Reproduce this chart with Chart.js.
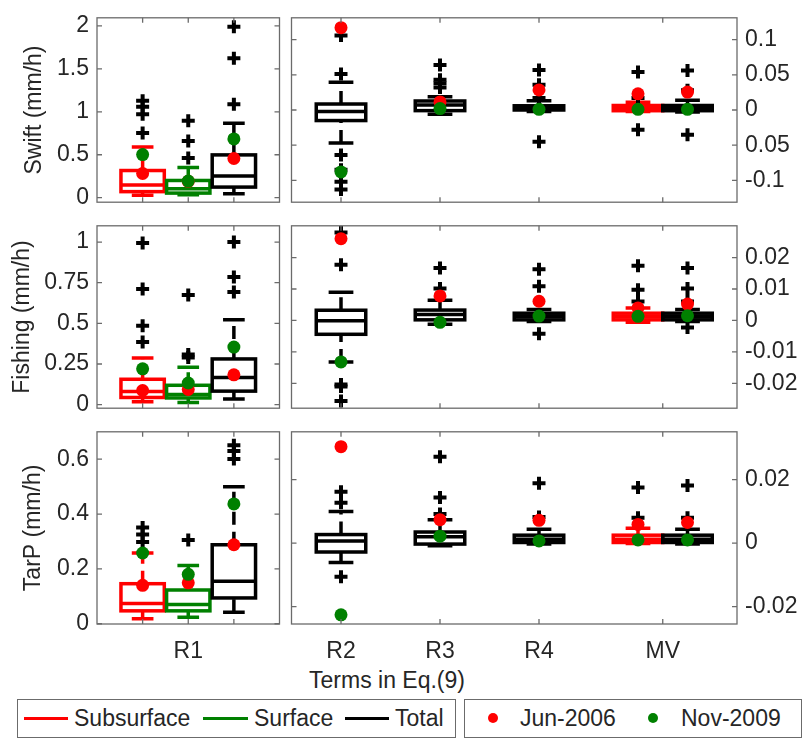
<!DOCTYPE html>
<html>
<head>
<meta charset="utf-8">
<script src="https://cdn.jsdelivr.net/npm/chart.js@4.4.1/dist/chart.umd.min.js"></script>
<style>
  body { margin: 0; width: 803px; height: 739px; position: relative; overflow: hidden; background: #fff;
         font-family: "Liberation Sans", Arial, Helvetica, sans-serif; color: #262626; }
  canvas { position: absolute; }
  .txt { position: absolute; white-space: nowrap; font-size: 23px; line-height: 23px; }
  .lgbox { position: absolute; border: 1px solid #6b6b6b; box-sizing: border-box; background: #fff; }
  .lgline { position: absolute; height: 3px; }
  .lgdot { position: absolute; width: 10px; height: 10px; border-radius: 50%; }
</style>
</head>
<body>
<div class="txt" style="left:387px; top:669px; transform:translateX(-50%)">Terms in Eq.(9)</div>

<div class="lgbox" style="left:17px; top:699px; width:439px; height:39px"></div>
<div class="lgline" style="left:24px; top:717px; width:44px; background:#ff0000"></div>
<div class="txt" style="left:74px; top:707px">Subsurface</div>
<div class="lgline" style="left:203px; top:717px; width:45px; background:#008000"></div>
<div class="txt" style="left:254px; top:707px">Surface</div>
<div class="lgline" style="left:345px; top:717px; width:44px; background:#000"></div>
<div class="txt" style="left:395px; top:707px">Total</div>

<div class="lgbox" style="left:464px; top:699px; width:338px; height:39px"></div>
<div class="lgdot" style="left:488px; top:713px; background:#ff0000"></div>
<div class="txt" style="left:520px; top:707px">Jun-2006</div>
<div class="lgdot" style="left:648px; top:713px; background:#008000"></div>
<div class="txt" style="left:681px; top:707px">Nov-2009</div>

<script>
// box positions and colours
const leftGroups = ['Subsurface', 'Surface', 'Total'];
const leftPos = [1, 2, 3];
const leftColors = ['#ff0000', '#008000', '#000000'];
const rightTerms = ['R2', 'R3', 'R4', 'MV', 'MV'];
const rightPos = [2, 3, 4, 5, 5.5];
const rightColors = ['#000000', '#000000', '#000000', '#ff0000', '#000000'];

// x ticks
const leftXTicks = [1, 2, 3];
const leftXLabels = ['', 'R1', ''];
const rightXTicks = [2, 3, 4, 5.25];
const rightXLabels = ['R2', 'R3', 'R4', 'MV'];

// y ticks
const swiftTicksL = [0, 0.5, 1, 1.5, 2];
const swiftLabelsL = ['0', '0.5', '1', '1.5', '2'];
const swiftTicksR = [-0.1, -0.05, 0, 0.05, 0.1];
const swiftLabelsR = ['-0.1', '0.05', '0', '0.05', '0.1'];
const fishTicksL = [0, 0.25, 0.5, 0.75, 1];
const fishLabelsL = ['0', '0.25', '0.5', '0.75', '1'];
const fishTicksR = [-0.02, -0.01, 0, 0.01, 0.02];
const fishLabelsR = ['-0.02', '-0.01', '0', '0.01', '0.02'];
const tarpTicksL = [0, 0.2, 0.4, 0.6];
const tarpLabelsL = ['0', '0.2', '0.4', '0.6'];
const tarpTicksR = [-0.02, 0, 0.02];
const tarpLabelsR = ['-0.02', '0', '0.02'];

// box stats per box: [lower whisker, q1, median, q3, upper whisker]
const swiftStatsL = [[0.028, 0.07, 0.147, 0.316, 0.589], [0.035, 0.053, 0.105, 0.2, 0.351], [0.046, 0.123, 0.253, 0.498, 0.867]];
const swiftOutL = [[1.13, 1.06, 0.972, 0.754], [0.895, 0.66, 0.463], [1.99, 1.625, 1.088]];
const swiftJunL = [0.281, 0.19, 0.456];
const swiftNovL = [0.502, 0.193, 0.684];

const swiftStatsR = [[-0.0468, -0.015, -0.002, 0.0085, 0.0395], [-0.006, -0.0009, 0.007, 0.0128, 0.019], [-0.002, 0.0, 0.003, 0.006, 0.013], [-0.002, -0.001, 0.003, 0.0064, 0.011], [-0.003, -0.001, 0.003, 0.0064, 0.014]];
const swiftOutR = [[0.106, 0.051, -0.064, -0.085, -0.102, -0.113], [0.064, 0.043, 0.038, 0.032], [0.057, 0.036, 0.017, -0.045], [0.054, 0.017, -0.028], [0.056, 0.028, -0.035]];
const swiftJunR = [0.117, 0.0115, 0.0285, 0.023, 0.0255];
const swiftNovR = [-0.088, 0.002, 0.001, 0.001, 0.001];

const fishStatsL = [[0.017, 0.044, 0.081, 0.156, 0.287], [0.013, 0.041, 0.063, 0.119, 0.23], [0.035, 0.083, 0.167, 0.281, 0.522]];
const fishOutL = [[0.994, 0.711, 0.485, 0.385], [0.674, 0.309, 0.29], [1.0, 0.785, 0.693]];
const fishJunL = [0.087, 0.093, 0.183];
const fishNovL = [0.22, 0.133, 0.354];

const fishStatsR = [[-0.0132, -0.0044, -0.0001, 0.00325, 0.009], [-0.0012, 0.0002, 0.0019, 0.0033, 0.0064], [-0.0003, 0.0002, 0.0013, 0.0023, 0.0035], [-0.0006, 0.0002, 0.0012, 0.0023, 0.004], [-0.0003, 0.0002, 0.0012, 0.0023, 0.0035]];
const fishOutR = [[0.028, 0.0177, -0.0204, -0.021, -0.0256], [0.0167, 0.0102], [0.0163, 0.0109, -0.0042], [0.0174, 0.0098, 0.006], [0.0167, 0.0102, 0.006, -0.0022]];
const fishJunR = [0.026, 0.0078, 0.0061, 0.004, 0.0052];
const fishNovR = [-0.0132, -0.0006, 0.0014, 0.0013, 0.0015];

const tarpStatsL = [[0.018, 0.047, 0.074, 0.146, 0.258], [0.024, 0.047, 0.07, 0.123, 0.212], [0.042, 0.094, 0.155, 0.288, 0.5]];
const tarpOutL = [[0.351, 0.325, 0.298], [0.305], [0.651, 0.63, 0.601]];
const tarpJunL = [0.14, 0.149, 0.288];
const tarpNovL = [0.258, 0.18, 0.437];

const tarpStatsR = [[-0.0061, -0.0028, 0.0007, 0.0027, 0.01], [-0.0008, -0.0003, 0.002, 0.0035, 0.0074], [-0.0003, 0.0002, 0.0012, 0.0025, 0.0044], [-0.0001, 0.0002, 0.0012, 0.0025, 0.0047], [-0.0003, 0.0002, 0.0012, 0.0025, 0.0044]];
const tarpOutR = [[0.0162, 0.0127, -0.0106], [0.0272, 0.0144, 0.0092], [0.0189, 0.0082], [0.0175, 0.008], [0.0182, 0.008]];
const tarpJunR = [0.0304, 0.0074, 0.0072, 0.0059, 0.0065];
const tarpNovR = [-0.0226, 0.0022, 0.0007, 0.001, 0.001];

// layout
const FONT = '"Liberation Sans", Arial, Helvetica, sans-serif';
const TXT = '#262626';
const EDGE = '#6b6b6b';
const ROWS = [[8, 212], [216, 418], [422, 624]];

function boxPlugin(stats, pos, colors, width) {
  return {
    id: 'boxes',
    beforeDatasetsDraw(chart) {
      const { ctx, chartArea: a, scales: { x, y } } = chart;
      const py = v => y.getPixelForValue(v);
      ctx.save();
      ctx.beginPath(); ctx.rect(a.left, a.top, a.right - a.left, a.bottom - a.top); ctx.clip();
      ctx.lineWidth = 3.5;
      stats.forEach((s, i) => {
        const [lo, q1, med, q3, hi] = s;
        const px = x.getPixelForValue(pos[i]);
        const hw = x.getPixelForValue(pos[i] + width / 2) - px;
        ctx.strokeStyle = colors[i];
        ctx.setLineDash([13, 7]);
        ctx.beginPath();
        ctx.moveTo(px, py(lo)); ctx.lineTo(px, py(q1));
        ctx.moveTo(px, py(q3)); ctx.lineTo(px, py(hi));
        ctx.stroke();
        ctx.setLineDash([]);
        ctx.beginPath();
        ctx.moveTo(px - hw / 2, py(hi)); ctx.lineTo(px + hw / 2, py(hi));
        ctx.moveTo(px - hw / 2, py(lo)); ctx.lineTo(px + hw / 2, py(lo));
        ctx.moveTo(px - hw, py(med)); ctx.lineTo(px + hw, py(med));
        ctx.stroke();
        ctx.strokeRect(px - hw, py(q3), 2 * hw, py(q1) - py(q3));
      });
      ctx.restore();
    }
  };
}

function framePlugin(xTicks, yTicks) {
  return {
    id: 'frame',
    afterDraw(chart) {
      const { ctx, chartArea: a, scales: { x, y } } = chart;
      ctx.save();
      ctx.strokeStyle = EDGE; ctx.lineWidth = 1.3;
      ctx.strokeRect(a.left, a.top, a.right - a.left, a.bottom - a.top);
      const tl = 5;
      ctx.beginPath();
      yTicks.forEach(v => {
        const p = y.getPixelForValue(v);
        ctx.moveTo(a.left, p); ctx.lineTo(a.left + tl, p);
        ctx.moveTo(a.right, p); ctx.lineTo(a.right - tl, p);
      });
      xTicks.forEach(v => {
        const p = x.getPixelForValue(v);
        ctx.moveTo(p, a.top); ctx.lineTo(p, a.top + tl);
        ctx.moveTo(p, a.bottom); ctx.lineTo(p, a.bottom - tl);
      });
      ctx.stroke();
      ctx.restore();
    }
  };
}

function panel(o) {
  const isLeft = o.side === 'left';
  const bottomRow = o.row === 2;
  const [top, bot] = ROWS[o.row];
  const cl = isLeft ? 0 : 281, cw = isLeft ? 290 : 522;
  const ch = bot - top + 12 + (bottomRow ? 50 : 12);
  const cv = document.createElement('canvas');
  cv.width = cw; cv.height = ch;
  cv.style.left = cl + 'px'; cv.style.top = (top - 12) + 'px';
  cv.style.width = cw + 'px'; cv.style.height = ch + 'px';
  document.body.appendChild(cv);

  const pos = isLeft ? leftPos : rightPos;
  const colors = isLeft ? leftColors : rightColors;
  const xTicks = isLeft ? leftXTicks : rightXTicks;
  const xLabels = isLeft ? leftXLabels : rightXLabels;
  const pts = vals => vals.map((v, i) => ({ x: pos[i], y: v }));
  const outs = o.out.flatMap((vals, i) => vals.map(v => ({ x: pos[i], y: v })));
  const font = { family: FONT, size: 23 };

  new Chart(cv, {
    type: 'scatter',
    data: {
      datasets: [
        { label: 'outliers', data: outs, order: 3, clip: false, pointStyle: 'cross',
          pointRadius: 6.5, pointBorderWidth: 4, pointBorderColor: '#000', pointBackgroundColor: '#000' },
        { label: 'Jun-2006', data: pts(o.jun), order: 2, clip: false, pointStyle: 'circle',
          pointRadius: 6.5, pointBorderWidth: 0, pointBackgroundColor: '#ff0000' },
        { label: 'Nov-2009', data: pts(o.nov), order: 1, clip: false, pointStyle: 'circle',
          pointRadius: 6.5, pointBorderWidth: 0, pointBackgroundColor: '#008000' }
      ]
    },
    options: {
      responsive: false, animation: false, events: [],
      layout: { padding: { top: 12, bottom: bottomRow ? 0 : 12, left: isLeft ? 0 : 10, right: isLeft ? 3 : 0 } },
      plugins: { legend: { display: false }, tooltip: { enabled: false } },
      scales: {
        x: {
          type: 'linear', min: isLeft ? 0 : 1.5, max: isLeft ? 4 : 6.0,
          display: bottomRow,
          afterBuildTicks: s => { s.ticks = xTicks.map(v => ({ value: v })); },
          afterFit: s => { if (bottomRow) s.height = 50; },
          grid: { display: false, drawTicks: false }, border: { display: false },
          ticks: { autoSkip: false, maxRotation: 0, padding: 14, font, color: TXT,
                   callback: (v, i) => xLabels[i] }
        },
        y: {
          type: 'linear', position: isLeft ? 'left' : 'right', min: o.min, max: o.max,
          afterBuildTicks: s => { s.ticks = o.ticks.map(v => ({ value: v })); },
          afterFit: s => { s.width = isLeft ? 97 : 66; },
          grid: { display: false, drawTicks: false }, border: { display: false },
          ticks: { autoSkip: false, padding: 8, font, color: TXT, callback: (v, i) => o.labels[i] },
          title: { display: !!o.ylabel, text: o.ylabel || '', font, color: TXT,
                   padding: { top: o.titlePad || 0, bottom: 0 } }
        }
      }
    },
    plugins: [boxPlugin(o.stats, pos, colors, isLeft ? 0.95 : 0.5), framePlugin(xTicks, o.ticks)]
  });
}

panel({ side: 'left', row: 0, min: -0.053, max: 2.095, ticks: swiftTicksL, labels: swiftLabelsL,
        stats: swiftStatsL, out: swiftOutL, jun: swiftJunL, nov: swiftNovL, ylabel: 'Swift (mm/h)', titlePad: 21 });
panel({ side: 'right', row: 0, min: -0.131, max: 0.131, ticks: swiftTicksR, labels: swiftLabelsR,
        stats: swiftStatsR, out: swiftOutR, jun: swiftJunR, nov: swiftNovR });
panel({ side: 'left', row: 1, min: -0.022, max: 1.1, ticks: fishTicksL, labels: fishLabelsL,
        stats: fishStatsL, out: fishOutL, jun: fishJunL, nov: fishNovL, ylabel: 'Fishing (mm/h)', titlePad: 9 });
panel({ side: 'right', row: 1, min: -0.0279, max: 0.0301, ticks: fishTicksR, labels: fishLabelsR,
        stats: fishStatsR, out: fishOutR, jun: fishJunR, nov: fishNovR });
panel({ side: 'left', row: 2, min: -0.001, max: 0.7, ticks: tarpTicksL, labels: tarpLabelsL,
        stats: tarpStatsL, out: tarpOutL, jun: tarpJunL, nov: tarpNovL, ylabel: 'TarP (mm/h)', titlePad: 20 });
panel({ side: 'right', row: 2, min: -0.0255, max: 0.0351, ticks: tarpTicksR, labels: tarpLabelsR,
        stats: tarpStatsR, out: tarpOutR, jun: tarpJunR, nov: tarpNovR });
</script>
</body>
</html>
